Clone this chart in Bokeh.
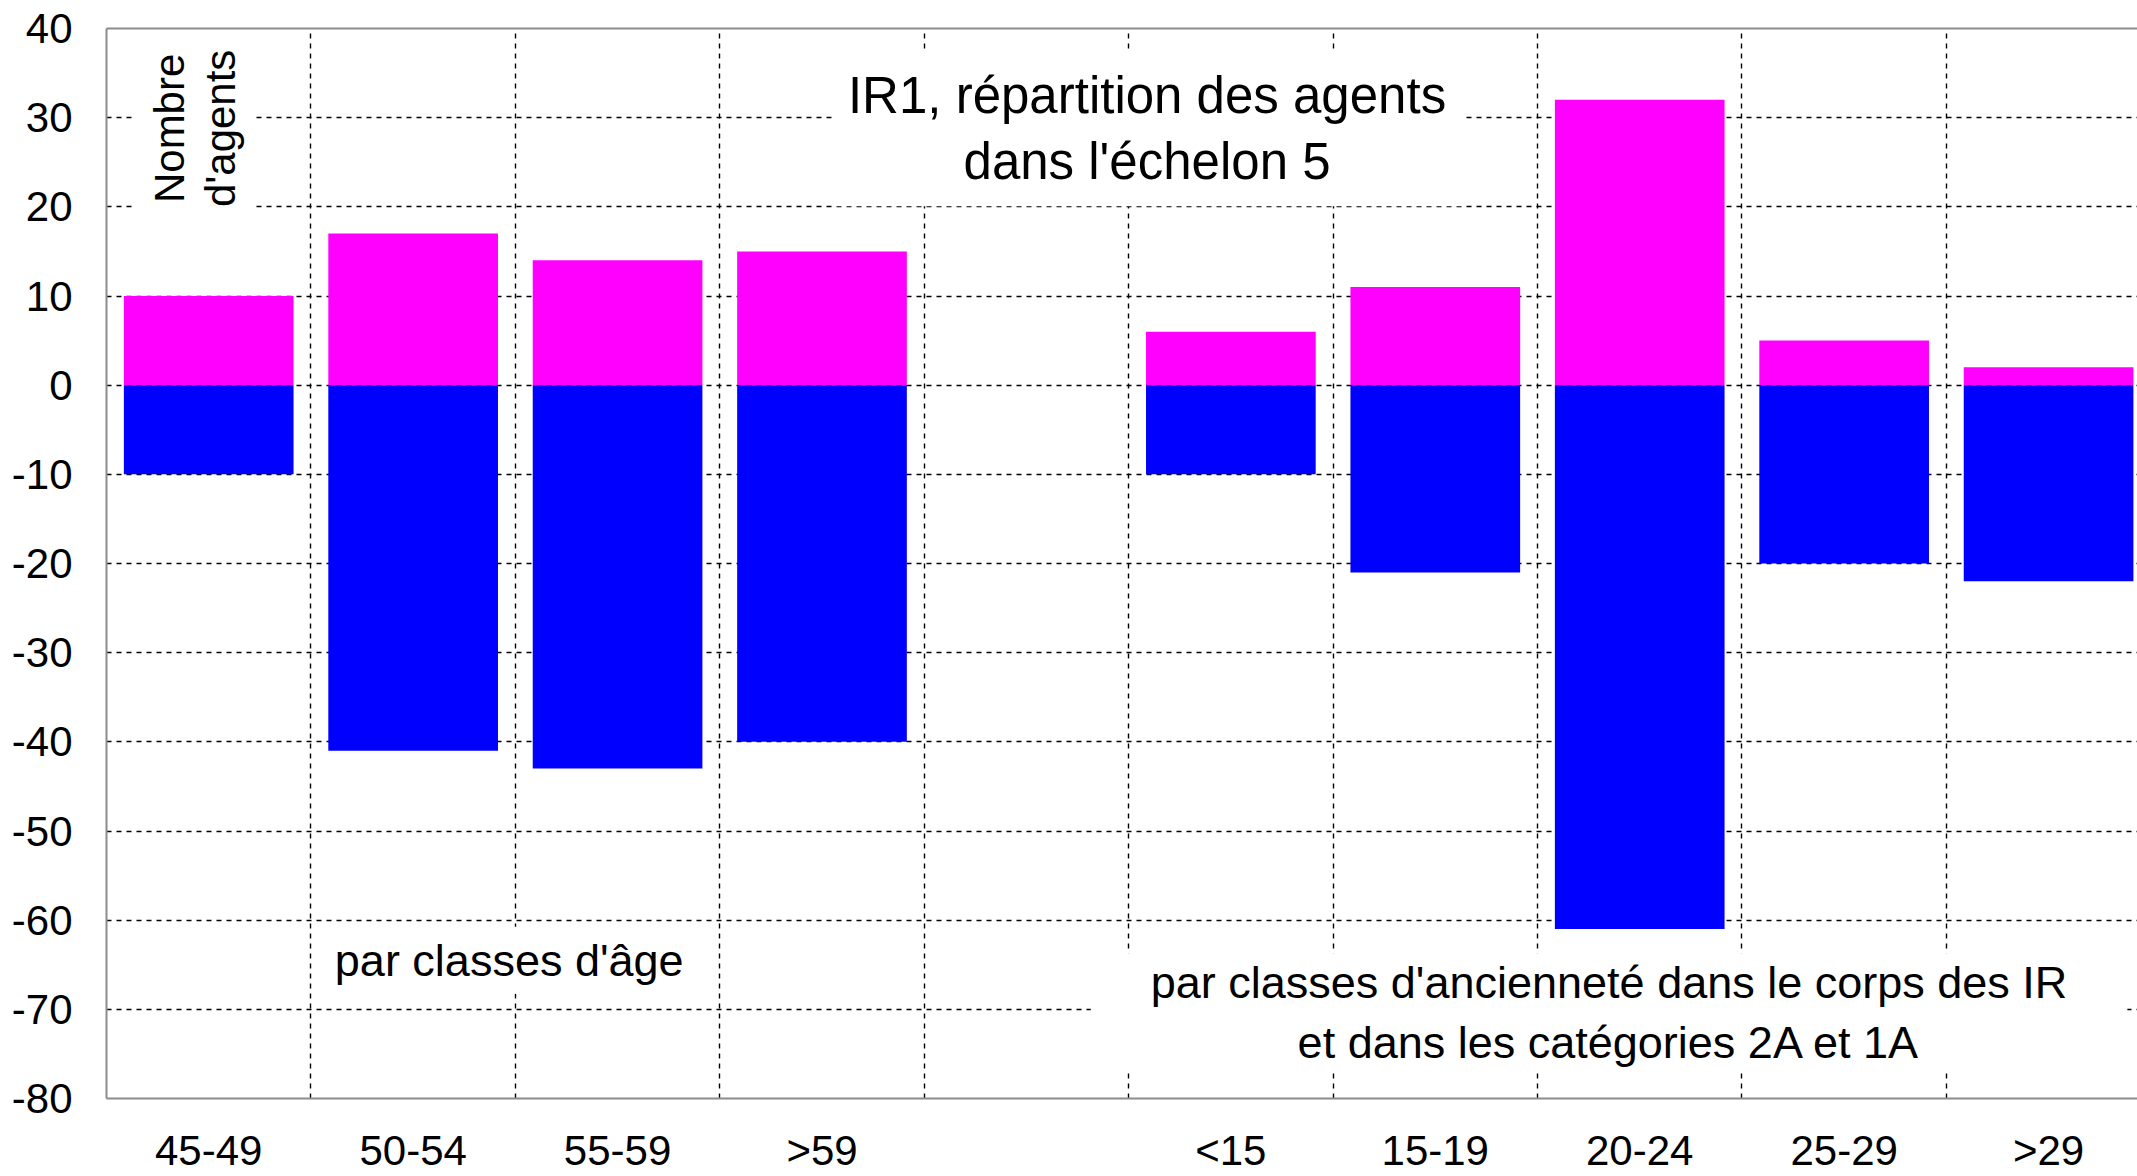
import math
from bokeh.plotting import figure
from bokeh.models import Range1d, FixedTicker, Label, ColumnDataSource, LinearAxis
from bokeh.embed import file_html
from bokeh.resources import INLINE

# ---- data ----
age_labels = ["45-49", "50-54", "55-59", ">59"]
age_upper = [10, 17, 14, 15]
age_lower = [-10, -41, -43, -40]

sen_labels = ["<15", "15-19", "20-24", "25-29", ">29"]
sen_upper = [6, 11, 32, 5, 2]
sen_lower = [-10, -21, -61, -20, -22]

y_ticks = [-80, -70, -60, -50, -40, -30, -20, -10, 0, 10, 20, 30, 40]

title_text = "IR1, répartition des agents\ndans l'échelon 5"
ylab_text = "Nombre\nd'agents"
age_note = "par classes d'âge"
sen_note = "par classes d'ancienneté dans le corps des IR\net dans les catégories 2A et 1A"

# ---- layout: 4 age slots, one empty slot, 5 seniority slots ----
labels = age_labels + [""] + sen_labels
upper = age_upper + [float("nan")] + sen_upper
lower = age_lower + [float("nan")] + sen_lower
xs = [i + 0.5 for i in range(len(labels))]
keep = [i for i, l in enumerate(labels) if l]

src = ColumnDataSource(dict(
    x=[xs[i] for i in keep],
    up=[upper[i] for i in keep],
    lo=[lower[i] for i in keep],
))

FONT = "Liberation Sans"
BORDER = "#8c8c8c"

p = figure(width=2137, height=1176, output_backend="svg", toolbar_location=None,
           x_range=Range1d(0, 9.935), y_range=Range1d(-80, 40),
           min_border_left=106, min_border_right=0, min_border_top=28, min_border_bottom=78,
           background_fill_color="white", border_fill_color="white")

p.outline_line_color = None

p.vbar(x="x", bottom=0, top="up", width=0.83, source=src, fill_color="#ff00ff", line_color=None)
p.vbar(x="x", bottom="lo", top=0, width=0.83, source=src, fill_color="#0000ff", line_color=None)

x_axis = p.below[0]
y_axis = p.left[0]

# top border drawn as an empty axis (no ticks, no labels)
top_axis = LinearAxis(ticker=FixedTicker(ticks=[]))
p.add_layout(top_axis, "above")

x_axis.ticker = FixedTicker(ticks=[xs[i] for i in keep])
x_axis.major_label_overrides = {xs[i]: labels[i] for i in keep}
y_axis.ticker = FixedTicker(ticks=y_ticks)
y_axis.major_label_overrides = {t: str(t) for t in y_ticks}
for ax in (x_axis, y_axis, top_axis):
    ax.axis_line_color = BORDER
    ax.axis_line_width = 2
    ax.major_tick_line_color = None
    ax.minor_tick_line_color = None
    ax.major_tick_out = 0
    ax.major_tick_in = 0
    ax.minor_tick_out = 0
    ax.major_label_text_font = FONT
    ax.major_label_text_font_size = "42px"
    ax.major_label_text_color = "black"
top_axis.major_label_standoff = 0
x_axis.major_label_standoff = 28
x_axis.major_label_text_line_height = 0.8
y_axis.major_label_standoff = 34

# grids
p.xgrid.ticker = FixedTicker(ticks=list(range(1, len(labels))))
p.ygrid.ticker = FixedTicker(ticks=y_ticks)
for g in (p.xgrid[0], p.ygrid[0]):
    g.grid_line_color = "black"
    g.grid_line_width = 1.4
    g.grid_line_dash = "5 5"
    g.grid_line_alpha = 1.0

# annotations with white boxes
p.add_layout(Label(x=5.09, y=28.8, text=title_text, text_align="center", text_baseline="middle",
                   text_font=FONT, text_font_size="51px", text_line_height=1.17, text_color="black",
                   background_fill_color="white", padding=16))
p.add_layout(Label(x=0.433, y=28.8, text=ylab_text, angle=math.pi / 2,
                   text_align="center", text_baseline="middle", text_color="black",
                   text_font=FONT, text_font_size="42px", text_line_height=1.10,
                   background_fill_color="white", padding=10))
p.add_layout(Label(x=1.97, y=-64.5, text=age_note, text_align="center", text_baseline="middle",
                   text_font=FONT, text_font_size="45px", text_color="black",
                   background_fill_color="white", padding=8))
p.add_layout(Label(x=7.35, y=-70.4, text=sen_note, text_align="center", text_baseline="middle",
                   text_font=FONT, text_font_size="45px", text_line_height=1.18, text_color="black",
                   background_fill_color="white", padding=(60, 4)))

open("out.html", "w").write(file_html(p, INLINE))
